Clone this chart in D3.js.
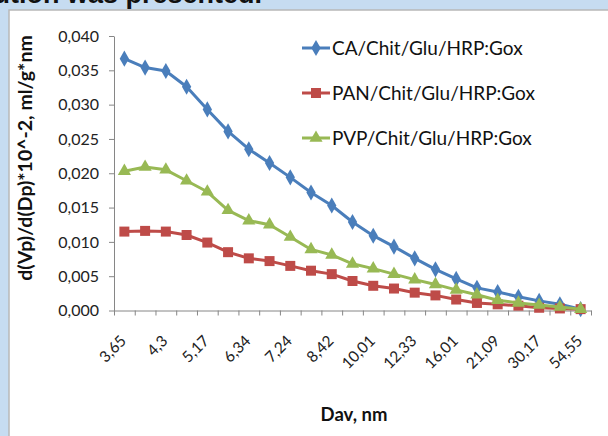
<!DOCTYPE html>
<html>
<head>
<meta charset="utf-8">
<script src="https://cdn.jsdelivr.net/npm/d3@7"></script>
<style>
  body { margin: 0; background: #c6dcf1; }
  svg { display: block; }
</style>
</head>
<body>
<div id="chart"></div>
<script>
// Dav, nm (only every second label is shown on the axis)
const categories = ['3,65', '3,97', '4,3', '4,7', '5,17', '5,7', '6,34', '6,75', '7,24', '7,8', '8,42', '9,15',
  '10,01', '11,05', '12,33', '13,9', '16,01', '18,2', '21,09', '24,9', '30,17', '38,5', '54,55'];

const caValues = [0.0367, 0.0354, 0.0349, 0.0326, 0.0293, 0.0261, 0.0235, 0.0215, 0.0194, 0.0172, 0.0153,
  0.0129, 0.0109, 0.0093, 0.0076, 0.0060, 0.0046, 0.0033, 0.0027, 0.0020, 0.0014, 0.0009, 0.0002];
const panValues = [0.0115, 0.0116, 0.0115, 0.0110, 0.0099, 0.0085, 0.0076, 0.0072, 0.0065, 0.0058, 0.0053,
  0.0043, 0.0036, 0.0032, 0.0026, 0.0022, 0.0016, 0.0011, 0.0009, 0.0007, 0.0004, 0.0003, 0.0002];
const pvpValues = [0.0203, 0.0209, 0.0205, 0.0189, 0.0173, 0.0146, 0.0131, 0.0125, 0.0107, 0.0089, 0.0081,
  0.0068, 0.0061, 0.0053, 0.0045, 0.0038, 0.0030, 0.0023, 0.0015, 0.0011, 0.0008, 0.0005, 0.0002];

const seriesNames = ['CA/Chit/Glu/HRP:Gox', 'PAN/Chit/Glu/HRP:Gox', 'PVP/Chit/Glu/HRP:Gox'];
const yTicks = [0, 0.005, 0.010, 0.015, 0.020, 0.025, 0.030, 0.035, 0.040];

const width = 608, height = 436;
const font = 'Lato, "Open Sans", sans-serif';
const axisColor = '#868686';

const svg = d3.select('#chart').append('svg').attr('width', width).attr('height', height);

// slide background + white chart panel
svg.append('text')
  .attr('x', 262).attr('y', 3)
  .attr('text-anchor', 'end')
  .attr('font-family', '"Liberation Sans", Arial, sans-serif')
  .attr('font-weight', 'bold').attr('font-size', 27)
  .attr('fill', '#111')
  .text('size distribution was presented.');
svg.append('rect').attr('x', 9).attr('y', 10).attr('width', width).attr('height', height)
  .attr('fill', '#fff').attr('stroke', '#b8b8b8').attr('stroke-width', 1.5);

const x = d3.scaleBand().domain(d3.range(categories.length)).range([114, 591]);
const xEdge = d3.scaleLinear().domain([0, categories.length]).range([114, 591]);
const y = d3.scaleLinear().domain([0, 0.04]).range([310.5, 36]);
const fmt = d => d3.format('.3f')(d).replace('.', ',');

// y axis
const gy = svg.append('g').attr('transform', 'translate(114,0)')
  .call(d3.axisLeft(y).tickValues(yTicks).tickFormat(fmt).tickSize(5).tickSizeOuter(0).tickPadding(10));
gy.select('.domain').attr('stroke', axisColor);
gy.selectAll('.tick line').attr('stroke', axisColor);
gy.selectAll('.tick text').attr('font-family', font).attr('font-size', 16).attr('fill', '#222');

// x axis ticks between categories
const gx = svg.append('g').attr('transform', 'translate(0,' + y(0) + ')')
  .call(d3.axisBottom(xEdge).tickValues(d3.range(categories.length + 1)).tickFormat('').tickSize(5).tickSizeOuter(0));
gx.select('.domain').attr('stroke', axisColor);
gx.selectAll('.tick line').attr('stroke', axisColor);

// x labels, every second category, rotated
const gl = svg.append('g').attr('transform', 'translate(0,' + y(0) + ')')
  .call(d3.axisBottom(x).tickValues(d3.range(0, categories.length, 2)).tickFormat(i => categories[i]).tickSize(0));
gl.select('.domain').remove();
gl.selectAll('.tick text')
  .attr('font-family', font).attr('font-size', 15.5).attr('fill', '#222')
  .attr('text-anchor', 'end')
  .attr('transform', 'translate(-1,27.5) rotate(-45)')
  .attr('dy', '0.35em').attr('y', 0);

// axis titles
svg.append('text')
  .attr('transform', 'translate(32,158) rotate(-90)')
  .attr('text-anchor', 'middle')
  .attr('font-family', font).attr('font-weight', 'bold').attr('font-size', 19.5)
  .attr('fill', '#111')
  .text('d(Vp)/d(Dp)*10^-2, ml/g*nm');
svg.append('text')
  .attr('x', 354).attr('y', 421)
  .attr('text-anchor', 'middle')
  .attr('font-family', font).attr('font-weight', 'bold').attr('font-size', 18.5)
  .attr('fill', '#111')
  .text('Dav, nm');

// series
const series = [
  { name: seriesNames[0], values: caValues, color: '#4a7ebb', marker: d3.symbolDiamond, size: 75 },
  { name: seriesNames[1], values: panValues, color: '#be4b48', marker: d3.symbolSquare, size: 100 },
  { name: seriesNames[2], values: pvpValues, color: '#98b954', marker: d3.symbolTriangle, size: 75 }
];

const line = d3.line()
  .x((d, i) => x(i) + x.bandwidth() / 2)
  .y(d => y(d));

series.forEach(s => {
  const g = svg.append('g');
  g.append('path')
    .attr('d', line(s.values))
    .attr('fill', 'none')
    .attr('stroke', s.color)
    .attr('stroke-width', 3)
    .attr('stroke-linejoin', 'round');
  g.selectAll('path.m').data(s.values)
    .enter()
    .append('path')
    .attr('class', 'm')
    .attr('d', d3.symbol().type(s.marker).size(s.size))
    .attr('transform', (d, i) => `translate(${x(i) + x.bandwidth() / 2},${y(d)})`)
    .attr('fill', s.color);
});

// legend
const legend = svg.append('g');
series.forEach((s, i) => {
  const ly = 48 + i * 45;
  legend.append('line')
    .attr('x1', 302).attr('x2', 330).attr('y1', ly).attr('y2', ly)
    .attr('stroke', s.color).attr('stroke-width', 3);
  legend.append('path')
    .attr('d', d3.symbol().type(s.marker).size(s.size))
    .attr('transform', `translate(316,${ly})`)
    .attr('fill', s.color);
  legend.append('text')
    .attr('x', 332).attr('y', ly)
    .attr('dy', '0.35em')
    .attr('font-family', font).attr('font-size', 19).attr('fill', '#111')
    .text(s.name);
});
</script>
</body>
</html>
